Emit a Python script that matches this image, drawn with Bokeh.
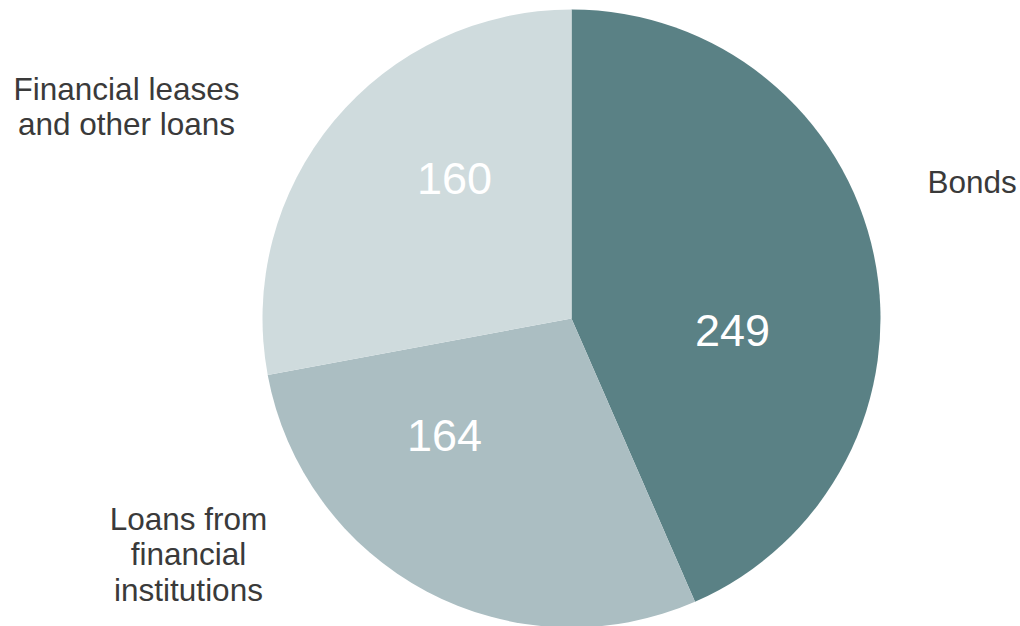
import math
from bokeh.plotting import figure
from bokeh.models import ColumnDataSource, Range1d
from bokeh.embed import file_html
from bokeh.resources import INLINE
from bokeh.core.properties import value

# Data
categories = ["Bonds", "Loans from\nfinancial\ninstitutions", "Financial leases\nand other loans"]
values = [249, 164, 160]
colors = ["#5a8185", "#abbec2", "#cfdbdd"]

W, H = 1020, 626
cx, cy, R = 571, H - 318, 309

total = float(sum(values))
starts, ends = [], []
acc = 0.0
for v in values:
    a0 = math.pi / 2 - 2 * math.pi * acc / total
    acc += v
    a1 = math.pi / 2 - 2 * math.pi * acc / total
    starts.append(a0)
    ends.append(a1)

p = figure(width=W, height=H, output_backend="svg", toolbar_location=None,
           x_range=Range1d(0, W), y_range=Range1d(0, H), min_border=0)
p.axis.visible = False
p.grid.visible = False
p.outline_line_color = None
p.background_fill_color = "white"
p.border_fill_color = "white"

src = ColumnDataSource(dict(x=[cx] * 3, y=[cy] * 3, start=starts, end=ends, color=colors))
p.wedge(x="x", y="y", radius=R, start_angle="start", end_angle="end",
        direction="clock", fill_color="color", line_color=None, source=src)

# value labels (layout positions, screen px from top)
val_pos = [(732, 330), (444, 435), (454, 178)]
p.text(x=[q[0] for q in val_pos], y=[H - q[1] for q in val_pos],
       text=[str(v) for v in values], text_align="center", text_baseline="middle",
       text_font=value("Liberation Sans"), text_font_size="45px", text_color="white")

# category labels
lab_pos = [(927, 181, "left"), (188, 554, "center"), (126, 106, "center")]
for (lx, ly, al), name in zip(lab_pos, categories):
    p.text(x=[lx], y=[H - ly], text=[name], text_align=al, text_baseline="middle",
           text_font=value("Liberation Sans"), text_font_size="31.5px",
           text_color="#3a3a3a", text_line_height=0.98)

open("out.html", "w").write(file_html(p, INLINE))
